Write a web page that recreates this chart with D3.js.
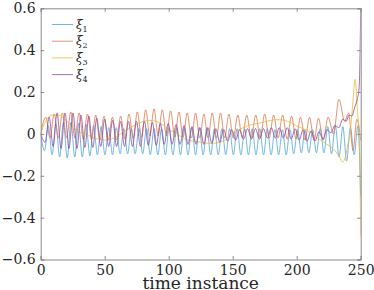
<!DOCTYPE html>
<html>
<head>
<meta charset="utf-8">
<script src="https://cdn.jsdelivr.net/npm/d3@7"></script>
<style>
  body { margin: 0; background: #fff; }
  svg text { font-family: "DejaVu Serif", serif; }
</style>
</head>
<body>
<div id="chart"></div>
<script>
// Size of the picture
const width = 374;
const height = 290;

// Ticks
const xTicks = [0, 50, 100, 150, 200, 250];
const yTicks = [-0.6, -0.4, -0.2, 0, 0.2, 0.4, 0.6];
const seriesNames = ["1", "2", "3", "4"];
const seriesColors = ["#4da3dc", "#e0764a", "#f0b93a", "#8e4a9c"];

// Series: [time, value] at peaks / troughs / bends
const xi1 = [[0,0],[3,-0.08],[5.95,0.04],[8.9,-0.1],[11.85,0.05],[14.8,-0.11],[17.75,0.055],[20.7,-0.115],[23.65,0.055],
  [26.6,-0.11],[29.55,0.05],[32.5,-0.11],[35.45,0.045],[38.4,-0.105],[41.35,0.04],[44.3,-0.1],[47.25,0.035],
  [50.2,-0.1],[53.15,0.03],[56.1,-0.1],[59.05,0.03],[62,-0.095],[64.95,0.025],[67.9,-0.095],[70.85,0.025],
  [73.8,-0.095],[76.75,0.025],[79.7,-0.095],[82.65,0.025],[85.6,-0.1],[88.55,0.025],[91.5,-0.1],[94.45,0.025],
  [97.4,-0.1],[100.35,0.03],[103.3,-0.1],[106.25,0.03],[109.2,-0.1],[112.15,0.03],[115.1,-0.1],[118.05,0.03],
  [121,-0.1],[123.95,0.03],[126.9,-0.1],[129.85,0.03],[132.8,-0.1],[135.75,0.025],[138.7,-0.1],[141.65,0.025],
  [144.6,-0.1],[147.55,0.025],[150.5,-0.1],[153.45,0.025],[156.4,-0.1],[159.35,0.025],[162.3,-0.1],[165.25,0.025],
  [168.2,-0.1],[171.15,0.025],[174.1,-0.1],[177.05,0.025],[180,-0.1],[182.95,0.02],[185.9,-0.1],[188.85,0.02],
  [191.8,-0.1],[194.75,0.02],[197.7,-0.095],[200.65,0.02],[203.6,-0.09],[206.55,0.02],[209.5,-0.09],[212.45,0.02],
  [215.4,-0.09],[218.35,0.025],[221.3,-0.09],[224.25,0.035],[227.2,-0.095],[230.15,0.04],[233.1,-0.11],[236.05,0.035],
  [239,-0.13],[241.95,0.03],[244.9,-0.1],[247.85,0.04],[250,-0.3]];

const xi2 = [[0,0],[4,0.08],[7.25,-0.02],[10.5,0.095],[13.75,-0.02],[17,0.1],[20.25,-0.02],[23.5,0.105],[26.75,-0.02],
  [30,0.1],[33.25,-0.025],[36.5,0.095],[39.75,-0.025],[43,0.09],[46.25,-0.03],[49.5,0.085],[52.75,-0.03],
  [56,0.08],[59.25,-0.03],[62.5,0.085],[65.75,-0.025],[69,0.095],[72.25,-0.02],[75.5,0.105],[78.75,-0.015],
  [82,0.115],[85.25,-0.01],[88.5,0.12],[91.75,-0.01],[95,0.115],[98.25,-0.01],[101.5,0.11],[104.75,-0.015],
  [108,0.105],[111.25,-0.015],[114.5,0.1],[117.75,-0.02],[121,0.1],[124.25,-0.02],[127.5,0.095],[130.75,-0.02],
  [134,0.1],[137.25,-0.02],[140.5,0.1],[143.75,-0.02],[147,0.095],[150.5,-0.02],[154,0.09],[157.5,-0.02],
  [161,0.09],[164.5,-0.02],[168,0.09],[171.5,-0.02],[175,0.095],[178.5,-0.02],[182,0.09],[185.5,-0.02],
  [189,0.09],[192.5,-0.025],[196,0.085],[199.5,-0.025],[203,0.08],[206.5,-0.03],[210,0.08],[213.5,-0.03],
  [217,0.075],[220.75,-0.03],[224.5,0.08],[228.75,0],[233,0.165],[237.5,0.06],[240.5,0.1],[244,-0.08],
  [247,0.07],[250,-0.03]];

const xi3 = [[0,0],[3,0.05],[6,0.08],[10,0.09],[14,0.09],[18,0.075],[22,0.05],[26,0.025],[30,0.01],[35,0],
  [40,-0.015],[45,-0.025],[50,-0.03],[55,-0.025],[60,-0.01],[65,0.01],[70,0.03],[75,0.045],[80,0.06],[85,0.065],
  [90,0.06],[95,0.045],[100,0.02],[105,0.005],[110,-0.015],[115,-0.03],[120,-0.035],[125,-0.04],[130,-0.045],
  [135,-0.045],[140,-0.04],[145,-0.025],[150,0.005],[155,0.02],[160,0.035],[165,0.045],[170,0.05],[175,0.058],
  [180,0.065],[185,0.068],[190,0.065],[195,0.055],[200,0.038],[205,0.025],[210,0.01],[215,-0.015],[220,-0.035],
  [225,-0.055],[230,-0.08],[233,-0.105],[236,-0.135],[238,-0.11],[240,-0.05],[242,0.02],[244,0.16],[245.5,0.26],
  [247.5,0.11],[248.8,0],[250,-0.49]];

const xi4 = [[0,0],[3.5,-0.04],[6.6,0.08],[9.7,-0.06],[12.8,0.1],[15.9,-0.07],[19,0.1],[22.1,-0.07],[25.2,0.1],
  [28.3,-0.07],[31.4,0.09],[34.5,-0.065],[37.6,0.085],[40.7,-0.065],[43.8,0.075],[46.9,-0.06],[50,0.07],
  [53.1,-0.06],[56.2,0.065],[59.3,-0.06],[62.4,0.06],[65.5,-0.06],[68.6,0.06],[71.7,-0.06],[74.8,0.06],
  [77.9,-0.06],[81,0.06],[84.1,-0.055],[87.2,0.055],[90.3,-0.055],[93.4,0.05],[96.5,-0.05],[99.6,0.05],
  [102.7,-0.05],[105.8,0.045],[108.9,-0.05],[112,0.04],[115.1,-0.05],[118.2,0.035],[121.3,-0.05],[124.4,0.03],
  [127.5,-0.05],[130.6,0.03],[133.7,-0.045],[136.8,0.025],[139.9,-0.04],[143,0.02],[146.1,-0.035],[149.2,0.02],
  [152.3,-0.03],[155.4,0.02],[158.5,-0.025],[161.6,0.025],[164.7,-0.025],[167.8,0.025],[170.9,-0.025],[174,0.025],
  [177.1,-0.02],[180.2,0.03],[183.3,-0.02],[186.4,0.03],[189.5,-0.02],[192.6,0.03],[195.7,-0.025],[198.8,0.025],
  [201.9,-0.03],[205,0.02],[208.1,-0.035],[211.2,0.015],[214.3,-0.035],[217.4,0.01],[220.5,-0.025],[223.6,0.02],
  [226.7,0.005],[229.8,0.04],[232.9,0.03],[236,0.07],[238.5,0.06],[241,0.09],[243,0.085],[245.5,0.13],
  [247.5,0.17],[248.8,0.22],[250,0.59]];

const allSeries = [xi1, xi2, xi3, xi4];

// Plot area
const plotLeft = 40.7, plotRight = 360.7, plotTop = 8.3, plotBottom = 259.5;
const serif = "'DejaVu Serif', serif";

const svg = d3.select("#chart")
  .append("svg")
  .attr("width", width)
  .attr("height", height);

const x = d3.scaleLinear().domain([0, 250]).range([plotLeft, plotRight]);
const y = d3.scaleLinear().domain([-0.6, 0.6]).range([plotBottom, plotTop]);

const axisColor = "#8a8a8a";
const fmt = d => d === 0 ? "0" : d3.format(".1f")(d);

// clip so lines stay in the box
svg.append("clipPath").attr("id", "clip")
  .append("rect")
  .attr("x", plotLeft).attr("y", plotTop)
  .attr("width", plotRight - plotLeft).attr("height", plotBottom - plotTop);

// Lines
const line = d3.line()
  .x(d => x(d[0]))
  .y(d => y(d[1]))
  .curve(d3.curveMonotoneX);

svg.append("g")
  .attr("clip-path", "url(#clip)")
  .selectAll("path")
  .data(allSeries)
  .enter()
  .append("path")
  .attr("d", line)
  .attr("fill", "none")
  .attr("stroke", (d, i) => seriesColors[i])
  .attr("stroke-width", 0.8);

// Axes, ticks pointing inward, box all round
const axisB = svg.append("g").attr("transform", `translate(0,${plotBottom})`)
  .call(d3.axisBottom(x).tickValues(xTicks).tickSize(-3.5).tickPadding(6).tickFormat(d3.format("d")));
const axisT = svg.append("g").attr("transform", `translate(0,${plotTop})`)
  .call(d3.axisTop(x).tickValues(xTicks).tickSize(-3.5).tickFormat(""));
const axisL = svg.append("g").attr("transform", `translate(${plotLeft},0)`)
  .call(d3.axisLeft(y).tickValues(yTicks).tickSize(-3.5).tickPadding(5).tickFormat(fmt));
const axisR = svg.append("g").attr("transform", `translate(${plotRight},0)`)
  .call(d3.axisRight(y).tickValues(yTicks).tickSize(-3.5).tickFormat(""));

[axisB, axisT, axisL, axisR].forEach(g => {
  g.attr("font-family", serif);
  g.select(".domain").attr("stroke", axisColor).attr("stroke-width", 1);
  g.selectAll(".tick line").attr("stroke", axisColor);
  g.selectAll(".tick text")
    .attr("fill", "#262626")
    .attr("font-size", "14px")
    .style("font-family", serif);
});

// x label
svg.append("text")
  .attr("x", (plotLeft + plotRight) / 2)
  .attr("y", 288.5)
  .attr("text-anchor", "middle")
  .attr("font-size", "17px")
  .attr("fill", "#262626")
  .style("font-family", serif)
  .text("time instance");

// Legend
const legend = svg.append("g");
seriesNames.forEach((n, i) => {
  const ly = 24.5 + i * 16.7;
  legend.append("line")
    .attr("x1", 52).attr("x2", 73)
    .attr("y1", ly).attr("y2", ly)
    .attr("stroke", seriesColors[i])
    .attr("stroke-width", 0.8);
  const t = legend.append("text")
    .attr("x", 76)
    .attr("y", ly + 4)
    .attr("font-size", "12px")
    .attr("fill", "#262626")
    .style("font-family", serif);
  t.append("tspan").attr("font-style", "italic").text("ξ");
  t.append("tspan").attr("font-size", "8px").attr("dy", 3).text(n);
});
</script>
</body>
</html>
